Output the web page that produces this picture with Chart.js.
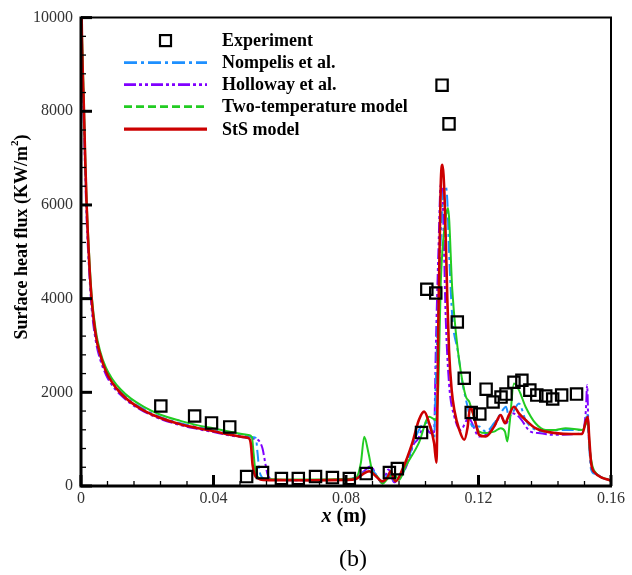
<!DOCTYPE html>
<html>
<head>
<meta charset="utf-8">
<script src="https://cdn.jsdelivr.net/npm/chart.js@4/dist/chart.umd.min.js"></script>
<style>
    html, body { margin: 0; padding: 0; background: #fff; }
    #wrap { width: 632px; height: 575px; }
</style>
</head>
<body>
<div id="wrap"><canvas id="heatFlux" width="632" height="575"></canvas></div>
<script>
/**
 * Surface heat flux along the wall, x in metres, flux in KW/m^2
 */

const SERIF = '"Liberation Serif", "Times New Roman", serif';

// axis ticks
const xTicks = [0, 0.04, 0.08, 0.12, 0.16];
const yTicks = [0, 2000, 4000, 6000, 8000, 10000];

// measured points [x, q]
const experimentPts = [
    [0.0241, 1707], [0.0343, 1495], [0.0394, 1347], [0.0449, 1262], [0.0500, 201],
    [0.0548, 286], [0.0605, 159], [0.0656, 159], [0.0708, 201], [0.0759, 180],
    [0.0810, 159], [0.0861, 265], [0.0931, 286], [0.0955, 371], [0.1028, 1140],
    [0.1044, 4200], [0.1071, 4120], [0.1090, 8558], [0.1111, 7731], [0.1136, 3500],
    [0.1157, 2300], [0.1178, 1570], [0.1204, 1538], [0.1223, 2068], [0.1244, 1792],
    [0.1268, 1898], [0.1283, 1962], [0.1307, 2216], [0.1331, 2259], [0.1355, 2047],
    [0.1376, 1941], [0.1403, 1920], [0.1424, 1856], [0.1451, 1941], [0.1496, 1962]
];

// Nompelis et al.
const nompelisPts = [
    [0, 10300], [0.0004, 9200], [0.0009, 7900], [0.0013, 6800], [0.0017, 5900],
    [0.0025, 4700], [0.0032, 3950], [0.0045, 3180], [0.0057, 2810], [0.0075, 2460],
    [0.0095, 2220], [0.012, 2010], [0.015, 1820], [0.019, 1640], [0.024, 1470],
    [0.03, 1340], [0.035, 1260], [0.04, 1195], [0.045, 1130], [0.05, 1060],
    [0.052, 1040], [0.0528, 1020], [0.0533, 700], [0.0538, 350], [0.0545, 200],
    [0.0555, 150], [0.058, 130], [0.065, 125], [0.075, 130], [0.083, 170],
    [0.0855, 300], [0.0872, 386], [0.089, 250], [0.091, 80], [0.0928, 250],
    [0.0945, 120], [0.096, 150], [0.098, 400], [0.1005, 950], [0.1026, 1268],
    [0.104, 1350], [0.1056, 1268], [0.1066, 1000], [0.1071, 2190], [0.1081, 4310],
    [0.1091, 6000], [0.1101, 6395], [0.1106, 6077], [0.1111, 5016], [0.1121, 3600],
    [0.1137, 2895], [0.1152, 2189], [0.1167, 1693], [0.1182, 1268], [0.1202, 1268],
    [0.1222, 1160], [0.1247, 1340], [0.1267, 1552], [0.1283, 1693], [0.1292, 1480],
    [0.1302, 1552], [0.1322, 1763], [0.1342, 1410], [0.1372, 1198], [0.1403, 1162],
    [0.1445, 1198], [0.1513, 1198], [0.1523, 1350], [0.1528, 1552], [0.1533, 986],
    [0.154, 350], [0.1552, 260], [0.1574, 170], [0.159, 138], [0.16, 110]
];

// Holloway et al.
const hollowayPts = [
    [0, 10200], [0.0004, 9000], [0.0009, 7700], [0.0013, 6600], [0.0017, 5700],
    [0.0025, 4550], [0.0032, 3800], [0.0045, 3080], [0.0057, 2720], [0.0075, 2380],
    [0.0095, 2140], [0.012, 1940], [0.015, 1760], [0.019, 1590], [0.024, 1430],
    [0.03, 1300], [0.035, 1220], [0.04, 1150], [0.045, 1080], [0.05, 1030],
    [0.052, 1010], [0.0535, 980], [0.0548, 800], [0.0556, 500], [0.0563, 250],
    [0.057, 160], [0.059, 135], [0.065, 125], [0.075, 130], [0.083, 170],
    [0.0855, 320], [0.0875, 420], [0.089, 250], [0.091, 60], [0.0928, 350],
    [0.0945, 80], [0.0958, 150], [0.098, 380], [0.1005, 900], [0.1016, 986],
    [0.1036, 1268], [0.1056, 1128], [0.1066, 1150], [0.1071, 2895], [0.1079, 5016],
    [0.1086, 6430], [0.1091, 6290], [0.1096, 5016], [0.1101, 3600], [0.1111, 2189],
    [0.1127, 1480], [0.1146, 1198], [0.117, 1446], [0.1202, 1056], [0.1222, 1092],
    [0.1247, 1268], [0.1267, 1480], [0.1283, 1340], [0.1302, 1552], [0.1322, 1480],
    [0.1357, 1162], [0.1387, 1128], [0.1423, 1092], [0.1513, 1128], [0.1524, 1600],
    [0.1528, 2150], [0.1532, 1200], [0.1536, 775], [0.1544, 350], [0.1559, 244],
    [0.1574, 174], [0.159, 138], [0.16, 110]
];

// Two-temperature model
const twoTempPts = [
    [0, 10500], [0.0004, 9400], [0.0009, 8100], [0.0013, 7000], [0.0017, 6100],
    [0.0025, 4900], [0.0032, 4100], [0.0045, 3300], [0.0057, 2900], [0.0075, 2530],
    [0.0095, 2280], [0.012, 2060], [0.015, 1870], [0.019, 1690], [0.024, 1520],
    [0.03, 1390], [0.035, 1300], [0.04, 1230], [0.045, 1160], [0.0505, 1090],
    [0.0516, 1040], [0.0521, 700], [0.0526, 350], [0.0533, 200], [0.0545, 160],
    [0.056, 150], [0.06, 140], [0.07, 140], [0.08, 150], [0.083, 180],
    [0.0845, 500], [0.0855, 1050], [0.0868, 700], [0.088, 300], [0.0895, 200],
    [0.091, 50], [0.0925, 150], [0.0945, 250], [0.096, 130], [0.098, 420],
    [0.102, 920], [0.1051, 1480], [0.1071, 1410], [0.1079, 2190], [0.1086, 4310],
    [0.1101, 5720], [0.1108, 5934], [0.1121, 4170], [0.1131, 3320], [0.1146, 2470],
    [0.1162, 1905], [0.1172, 1800], [0.118, 1620], [0.1202, 1160], [0.1222, 1130],
    [0.1247, 1160], [0.1267, 1234], [0.128, 1160], [0.1287, 950], [0.1294, 1340],
    [0.1307, 2189], [0.1322, 2047], [0.1342, 1693], [0.1372, 1340], [0.1403, 1198],
    [0.1433, 1198], [0.1463, 1234], [0.1513, 1198], [0.1525, 1340], [0.153, 1446],
    [0.1536, 775], [0.1544, 420], [0.1559, 244], [0.159, 138], [0.16, 110]
];

// StS model
const stsPts = [
    [0, 11000], [0.0003, 9500], [0.0009, 8000], [0.0013, 6900], [0.0017, 6000],
    [0.0025, 4750], [0.0032, 4000], [0.0045, 3200], [0.0057, 2830], [0.0075, 2450],
    [0.0095, 2200], [0.012, 1980], [0.015, 1790], [0.019, 1610], [0.024, 1450],
    [0.03, 1320], [0.035, 1240], [0.04, 1170], [0.045, 1095], [0.0495, 1040],
    [0.0508, 1010], [0.0513, 880], [0.0518, 450], [0.0525, 230], [0.0535, 160],
    [0.055, 130], [0.06, 125], [0.07, 120], [0.08, 130], [0.083, 150],
    [0.085, 250], [0.087, 315], [0.089, 210], [0.091, 100], [0.0925, 180],
    [0.0935, 314], [0.0945, 150], [0.095, 100], [0.097, 350], [0.1, 916],
    [0.102, 1410], [0.1036, 1587], [0.1051, 1340], [0.1066, 916], [0.1073, 500],
    [0.1079, 3600], [0.1086, 6430], [0.1091, 6855], [0.1098, 6077], [0.1106, 3955],
    [0.1111, 2895], [0.1119, 2047], [0.1127, 1623], [0.1142, 1198], [0.1157, 986],
    [0.1167, 1250], [0.1175, 1693], [0.1184, 1552], [0.1194, 1268], [0.1202, 1092],
    [0.1222, 1056], [0.1247, 1268], [0.1267, 1517], [0.128, 1340], [0.1292, 1517],
    [0.1307, 1693], [0.1322, 1552], [0.1342, 1410], [0.1372, 1234], [0.1403, 1162],
    [0.1433, 1128], [0.148, 1110], [0.1513, 1113], [0.1525, 1410], [0.153, 1480],
    [0.1534, 1056], [0.154, 490], [0.1552, 280], [0.1574, 174], [0.159, 138], [0.16, 110]
];

const toXY = pts => pts.map(p => ({ x: p[0], y: p[1] }));

const lineSeries = [
    { label: 'Nompelis et al.', pts: nompelisPts, color: '#1e90ff', width: 2, dash: [12, 4, 3, 4], legendDash: [13, 4, 3, 4], order: 3 },
    { label: 'Holloway et al.', pts: hollowayPts, color: '#8000ff', width: 2, dash: [11, 3, 3, 3, 3, 3], legendDash: [12, 3, 3, 3, 3, 3], order: 4 },
    { label: 'Two-temperature model', pts: twoTempPts, color: '#22cc22', width: 2, dash: [], legendDash: [8, 4], order: 2 },
    { label: 'StS model', pts: stsPts, color: '#cc0000', width: 2.6, dash: [], legendDash: [], order: 1 }
];

const datasets = [{
    label: 'Experiment',
    data: toXY(experimentPts),
    showLine: false,
    pointStyle: 'rect',
    pointRadius: 8,
    pointBorderWidth: 2.2,
    pointBorderColor: '#000',
    pointBackgroundColor: 'rgba(0,0,0,0)',
    order: 0
}];

lineSeries.forEach(s => {
    datasets.push({
        label: s.label,
        data: toXY(s.pts),
        showLine: true,
        borderColor: s.color,
        borderWidth: s.width,
        borderDash: s.dash,
        pointRadius: 0,
        cubicInterpolationMode: 'monotone',
        clip: 0,
        order: s.order
    });
});

// frame, inward ticks, titles and the boxed-in legend
const decorPlugin = {
    id: 'decor',
    afterDatasetsDraw(chart) {
        const { ctx, chartArea: a, scales } = chart;
        const xs = scales.x, ys = scales.y;
        ctx.save();
        ctx.strokeStyle = '#000';

        // x ticks every 0.008, major every 0.04
        for (let i = 0; i <= 20; i++) {
            const px = xs.getPixelForValue(i * 0.008);
            const major = i % 5 === 0;
            ctx.lineWidth = major ? 3 : 1.3;
            ctx.beginPath();
            ctx.moveTo(px, a.bottom);
            ctx.lineTo(px, a.bottom - (major ? 11 : 5));
            ctx.stroke();
        }
        // y ticks every 400, major every 2000
        for (let i = 0; i <= 25; i++) {
            const py = ys.getPixelForValue(i * 400);
            const major = i % 5 === 0;
            ctx.lineWidth = major ? 3 : 1.3;
            ctx.beginPath();
            ctx.moveTo(a.left, py);
            ctx.lineTo(a.left + (major ? 11 : 5), py);
            ctx.stroke();
        }

        // box
        ctx.lineWidth = 2;
        ctx.beginPath();
        ctx.moveTo(a.left, a.top);
        ctx.lineTo(a.right, a.top);
        ctx.lineTo(a.right, a.bottom);
        ctx.stroke();
        ctx.lineWidth = 3;
        ctx.beginPath();
        ctx.moveTo(a.left, a.top - 1);
        ctx.lineTo(a.left, a.bottom);
        ctx.lineTo(a.right + 1, a.bottom);
        ctx.stroke();

        // legend
        const lx0 = a.left + 43, lx1 = a.left + 126, tx = a.left + 141;
        const rowY = [a.top + 23, a.top + 45, a.top + 67, a.top + 89, a.top + 111.5];
        ctx.font = 'bold 18px ' + SERIF;
        ctx.fillStyle = '#000';
        ctx.textBaseline = 'middle';
        ctx.textAlign = 'left';

        ctx.lineWidth = 2.2;
        ctx.setLineDash([]);
        ctx.strokeRect((lx0 + lx1) / 2 - 5.5, rowY[0] - 5.5, 11, 11);
        ctx.fillText('Experiment', tx, rowY[0] + 1);

        lineSeries.forEach((s, i) => {
            const y = rowY[i + 1];
            ctx.strokeStyle = s.color;
            ctx.lineWidth = s.width + 0.6;
            ctx.setLineDash(s.legendDash);
            ctx.beginPath();
            ctx.moveTo(lx0, y);
            ctx.lineTo(lx1, y);
            ctx.stroke();
            ctx.fillText(s.label, tx, y + 1);
        });
        ctx.setLineDash([]);
        ctx.restore();
    },
    afterDraw(chart) {
        const { ctx } = chart;
        ctx.save();
        ctx.fillStyle = '#000';
        ctx.textBaseline = 'middle';

        // y title with superscript
        ctx.translate(22, 237);
        ctx.rotate(-Math.PI / 2);
        const main = 'Surface heat flux (KW/m';
        ctx.font = 'bold 18px ' + SERIF;
        const w1 = ctx.measureText(main).width;
        const w3 = ctx.measureText(')').width;
        ctx.font = 'bold 11px ' + SERIF;
        const w2 = ctx.measureText('2').width;
        let sx = -(w1 + w2 + w3) / 2;
        ctx.textAlign = 'left';
        ctx.font = 'bold 18px ' + SERIF;
        ctx.fillText(main, sx, 0);
        sx += w1;
        ctx.font = 'bold 11px ' + SERIF;
        ctx.fillText('2', sx, -7);
        sx += w2;
        ctx.font = 'bold 18px ' + SERIF;
        ctx.fillText(')', sx, 0);
        ctx.setTransform(1, 0, 0, 1, 0, 0);

        // x title, italic x
        ctx.font = 'italic bold 20px ' + SERIF;
        const wx = ctx.measureText('x').width;
        ctx.font = 'bold 20px ' + SERIF;
        const wm = ctx.measureText(' (m)').width;
        let cx = 344 - (wx + wm) / 2;
        ctx.font = 'italic bold 20px ' + SERIF;
        ctx.fillText('x', cx, 517);
        ctx.font = 'bold 20px ' + SERIF;
        ctx.fillText(' (m)', cx + wx, 517);

        // panel tag
        ctx.textAlign = 'center';
        ctx.font = '24px ' + SERIF;
        ctx.fillText('(b)', 353, 560);
        ctx.restore();
    }
};

const tickFont = { family: SERIF, size: 16 };

new Chart(document.getElementById('heatFlux').getContext('2d'), {
    type: 'scatter',
    data: { datasets },
    options: {
        responsive: false,
        animation: false,
        layout: { padding: { top: 15, right: 21, left: 0, bottom: 0 } },
        plugins: {
            legend: { display: false },
            tooltip: { enabled: false }
        },
        scales: {
            x: {
                type: 'linear',
                min: xTicks[0],
                max: xTicks[xTicks.length - 1],
                afterBuildTicks: s => { s.ticks = xTicks.map(v => ({ value: v })); },
                ticks: {
                    font: tickFont,
                    color: '#333',
                    padding: 3,
                    maxRotation: 0,
                    callback: v => (v === 0 ? '0' : v.toFixed(2))
                },
                grid: { display: false, drawTicks: false },
                border: { display: false },
                afterFit: s => { s.height = 89; }
            },
            y: {
                type: 'linear',
                min: yTicks[0],
                max: yTicks[yTicks.length - 1],
                afterBuildTicks: s => { s.ticks = yTicks.map(v => ({ value: v })); },
                ticks: {
                    font: tickFont,
                    color: '#333',
                    padding: 8,
                    callback: v => String(v)
                },
                grid: { display: false, drawTicks: false },
                border: { display: false },
                afterFit: s => { s.width = 81; }
            }
        }
    },
    plugins: [decorPlugin]
});
</script>
</body>
</html>
